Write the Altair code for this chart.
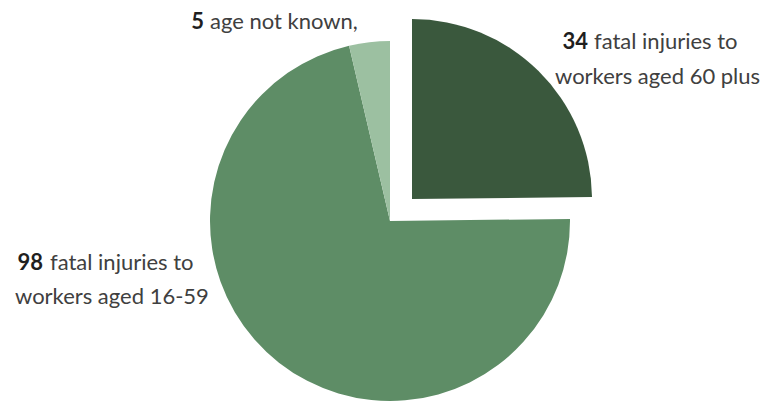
import altair as alt
import pandas as pd

groups = ["aged 60 plus", "aged 16-59", "age not known"]
values = [34, 98, 5]
order = [1, 2, 3]
colors = ["#3A583D", "#5E8D66", "#9CC0A1"]

# label texts
top_num, top_txt = "5", "age not known,"
right_num, right_l1, right_l2 = "34", "fatal injuries to", "workers aged 60 plus"
left_num, left_l1, left_l2 = "98", "fatal injuries to", "workers aged 16-59"

df = pd.DataFrame({"group": groups, "value": values, "order": order})

CX, CY, R = 390, 221, 180
EX, EY = 22, -22
FONT = "Lato"
FS = 22
TXT = "#404040"
NUM = "#1f1f1f"

def pie(visible_group, dx, dy, show):
    cond = alt.datum.group == visible_group
    return alt.Chart(df).mark_arc(radius=R, stroke=None).encode(
        theta=alt.Theta("value:Q", stack=True),
        order=alt.Order("order:Q"),
        color=alt.Color("group:N", scale=alt.Scale(domain=groups, range=colors), legend=None),
        x=alt.value(CX + dx),
        y=alt.value(CY + dy),
        opacity=alt.condition(cond, alt.value(1 if show else 0), alt.value(0 if show else 1)),
    )

main = pie("aged 60 plus", 0, 0, False)
expl = pie("aged 60 plus", EX, EY, True)

one = pd.DataFrame({"k": [0]})

def txt(s, x, y, bold=False, align="left"):
    return alt.Chart(one).mark_text(
        text=s, font=FONT, fontSize=FS, fontWeight="bold" if bold else "normal",
        color=NUM if bold else TXT, align=align, baseline="alphabetic",
    ).encode(x=alt.value(x), y=alt.value(y))

texts = [
    txt(top_num, 204, 29, True, "right"), txt(top_txt, 210, 29),
    txt(right_num, 588, 49, True, "right"), txt(right_l1, 594, 49), txt(right_l2, 555, 84),
    txt(left_num, 43, 270, True, "right"), txt(left_l1, 50, 270), txt(left_l2, 15, 304),
]

chart = alt.layer(main, expl, *texts).properties(
    width=773, height=407, padding=0, autosize="none"
).configure_view(stroke=None)

chart.save("out.html", embed_options={"renderer": "svg", "actions": False})
